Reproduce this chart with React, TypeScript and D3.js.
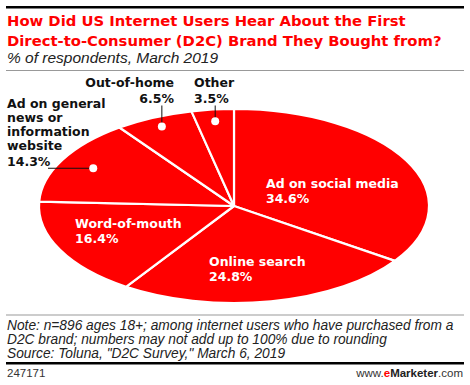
import React, { useEffect, useRef } from "react";
import * as d3 from "d3";

// chart data
const categories = [
  "Ad on social media",
  "Online search",
  "Word-of-mouth",
  "Ad on general news or information website",
  "Out-of-home",
  "Other",
];
const shares = [34.6, 24.8, 16.4, 14.3, 6.5, 3.5];

const titleLines = [
  "How Did US Internet Users Hear About the First",
  "Direct-to-Consumer (D2C) Brand They Bought from?",
];
const subtitle = "% of respondents, March 2019";
const noteLines = [
  "Note: n=896 ages 18+; among internet users who have purchased from a",
  "D2C brand; numbers may not add up to 100% due to rounding",
  'Source: Toluna, "D2C Survey," March 6, 2019',
];
const chartId = "247171";

const width = 470;
const height = 385;
const red = "#ff0000";
const boldFont = "'DejaVu Sans', sans-serif";
const plainFont = "'Liberation Sans', Arial, sans-serif";

// pie geometry (ellipse)
const cx = 234;
const cy = 206;
const rx = 195;
const ry = 97;

const App: React.FC = () => {
  const svgRef = useRef<SVGSVGElement>(null);

  useEffect(() => {
    if (!svgRef.current) return;
    const svg = d3.select(svgRef.current);
    svg.selectAll("*").remove();

    // header rules and titles
    svg.append("rect").attr("x", 6).attr("y", 6).attr("width", 458).attr("height", 2.5).attr("fill", "#000");

    svg
      .append("g")
      .selectAll("text")
      .data(titleLines)
      .join("text")
      .attr("x", 7)
      .attr("y", (d, i) => 26 + i * 20)
      .attr("fill", red)
      .attr("font-family", boldFont)
      .attr("font-weight", "bold")
      .attr("font-size", 14.8)
      .text((d) => d);

    svg
      .append("text")
      .attr("x", 7)
      .attr("y", 63)
      .attr("font-family", plainFont)
      .attr("font-style", "italic")
      .attr("font-size", 15.5)
      .attr("fill", "#222")
      .text(subtitle);

    svg.append("line").attr("x1", 6).attr("x2", 464).attr("y1", 70.5).attr("y2", 70.5).attr("stroke", "#999");

    // pie
    const pie = d3
      .pie<number>()
      .sort(null)
      .value((d) => d)
      .startAngle(0)
      .endAngle(2 * Math.PI);
    const arcs = pie(shares);
    const arc = d3.arc<d3.PieArcDatum<number>>().innerRadius(0).outerRadius(ry);

    const pieG = svg
      .append("g")
      .attr("transform", `translate(${cx},${cy}) scale(${rx / ry},1)`);
    pieG
      .selectAll("path")
      .data(arcs)
      .join("path")
      .attr("d", arc)
      .attr("fill", red)
      .attr("stroke", "#fff")
      .attr("stroke-width", 2.2)
      .attr("stroke-linejoin", "round")
      .attr("vector-effect", "non-scaling-stroke");

    // point on ellipse at pie angle and fraction of radius
    const ellipsePoint = (angle: number, frac: number): [number, number] => [
      cx + Math.sin(angle) * rx * frac,
      cy - Math.cos(angle) * ry * frac,
    ];

    const fmt = (v: number) => `${v.toFixed(1)}%`;

    // inside labels (white), anchored relative to the ellipse
    const insideLabels: { idx: number; ux: number; uy: number; lines: string[] }[] = [
      { idx: 0, ux: 0.164, uy: -0.186, lines: ["Ad on social media"] },
      { idx: 1, ux: -0.128, uy: 0.619, lines: ["Online search"] },
      { idx: 2, ux: -0.815, uy: 0.227, lines: ["Word-of-mouth"] },
    ];
    insideLabels.forEach((l) => {
      const t = svg
        .append("text")
        .attr("x", cx + l.ux * rx)
        .attr("y", cy + l.uy * ry)
        .attr("fill", "#fff")
        .attr("font-family", boldFont)
        .attr("font-weight", "bold")
        .attr("font-size", 12.5);
      [...l.lines, fmt(shares[l.idx])].forEach((s, i) => {
        t.append("tspan").attr("x", cx + l.ux * rx).attr("dy", i === 0 ? 0 : 15).text(s);
      });
    });

    // outside labels with leader lines and dots
    const outside = [
      { idx: 4, anchor: "end", x: 174, y: 87, lines: ["Out-of-home"], leader: "up", frac: 0.9 },
      { idx: 5, anchor: "start", x: 194, y: 87, lines: ["Other"], leader: "up", frac: 0.88 },
      {
        idx: 3,
        anchor: "start",
        x: 7,
        y: 108,
        lines: ["Ad on general", "news or", "information", "website"],
        leader: "left",
        frac: 0.82,
      },
    ];
    outside.forEach((o) => {
      const a = arcs[o.idx];
      const [dx, dy] = ellipsePoint((a.startAngle + a.endAngle) / 2, o.frac);
      const allLines = [...o.lines, fmt(shares[o.idx])];
      const t = svg
        .append("text")
        .attr("x", o.x)
        .attr("y", o.y)
        .attr("text-anchor", o.anchor)
        .attr("fill", "#111")
        .attr("font-family", boldFont)
        .attr("font-weight", "bold")
        .attr("font-size", 12.5);
      allLines.forEach((s, i) => {
        t.append("tspan").attr("x", o.x).attr("dy", i === 0 ? 0 : i === allLines.length - 1 ? 15.5 : 14).text(s);
      });
      const lastY = o.y + (allLines.length - 2) * 14 + 15.5;
      if (o.leader === "up") {
        svg.append("line").attr("x1", dx).attr("x2", dx).attr("y1", lastY + 3).attr("y2", dy)
          .attr("stroke", "#111").attr("stroke-width", 1);
      } else {
        svg.append("line").attr("x1", 48).attr("x2", dx).attr("y1", dy).attr("y2", dy)
          .attr("stroke", "#111").attr("stroke-width", 1);
      }
      svg.append("circle").attr("cx", dx).attr("cy", dy).attr("r", 4).attr("fill", "#fff");
    });

    // footnotes
    svg.append("line").attr("x1", 6).attr("x2", 464).attr("y1", 315).attr("y2", 315).attr("stroke", "#999");
    svg
      .append("g")
      .selectAll("text")
      .data(noteLines)
      .join("text")
      .attr("x", 7)
      .attr("y", (d, i) => 330 + i * 14)
      .attr("font-family", plainFont)
      .attr("font-style", "italic")
      .attr("font-size", 13.75)
      .attr("fill", "#222")
      .text((d) => d);

    svg.append("rect").attr("x", 6).attr("y", 362).attr("width", 458).attr("height", 2.5).attr("fill", "#000");

    svg
      .append("text")
      .attr("x", 7)
      .attr("y", 377)
      .attr("font-family", plainFont)
      .attr("font-size", 11.5)
      .attr("fill", "#333")
      .text(chartId);

    const brand = svg
      .append("text")
      .attr("x", 463)
      .attr("y", 377)
      .attr("text-anchor", "end")
      .attr("font-family", plainFont)
      .attr("font-size", 11.5)
      .attr("fill", "#333");
    brand.append("tspan").text("www.");
    brand.append("tspan").attr("fill", red).attr("font-weight", "bold").text("e");
    brand.append("tspan").attr("font-weight", "bold").attr("fill", "#222").text("Marketer");
    brand.append("tspan").text(".com");
  }, []);

  return (
    <svg
      ref={svgRef}
      width={width}
      height={height}
      style={{ position: "absolute", left: 0, top: 0, background: "#fff" }}
    />
  );
};

export default App;
